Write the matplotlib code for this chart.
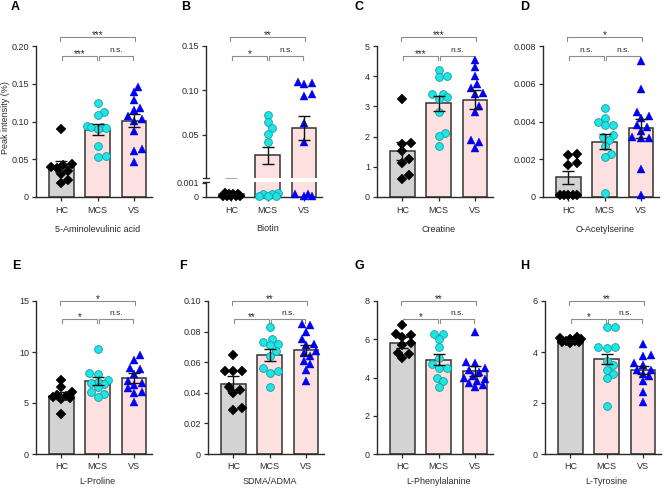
import numpy as np
import matplotlib
matplotlib.use('Agg')
import matplotlib.pyplot as plt

plt.rcParams['font.family'] = ['Liberation Sans', 'DejaVu Sans']

# ---------------- data ----------------
groups = ['HC', 'MCS', 'VS']

ala_hc = [0.090, 0.044, 0.042, 0.040, 0.038, 0.035, 0.031, 0.023, 0.018]
ala_mcs = [0.124, 0.112, 0.109, 0.094, 0.093, 0.093, 0.092, 0.090, 0.068, 0.053, 0.054]
ala_vs = [0.146, 0.139, 0.128, 0.118, 0.115, 0.107, 0.103, 0.101, 0.088, 0.063, 0.061, 0.047]
ala_mean = [0.040, 0.089, 0.101]
ala_sem = [0.0075, 0.0075, 0.0085]

bio_hc = [0.0003, 0.0002, 0.0002, 0.0002, 0.0001, 0.0001, 0.0001, 0.0001, 0.0001]
bio_mcs = [0.072, 0.064, 0.058, 0.051, 0.042, 0.0003, 0.0002, 0.0002, 0.0001, 0.0001, 0.0001]
bio_vs = [0.110, 0.108, 0.107, 0.0955, 0.0935, 0.0635, 0.0417, 0.0002, 0.0002, 0.0001, 0.0001]
bio_mean = [0.0002, 0.027, 0.0575]
bio_sem = [0.00002, 0.0096, 0.0135]

cre_hc = [3.25, 1.75, 1.80, 1.52, 1.27, 1.12, 0.72, 0.60]
cre_mcs = [4.22, 3.97, 4.00, 3.40, 3.42, 3.30, 3.25, 2.82, 2.12, 2.03, 1.68]
cre_vs = [4.55, 4.30, 4.00, 3.75, 3.60, 3.45, 3.40, 3.00, 2.80, 1.88, 1.82, 1.62]
cre_mean = [1.51, 3.10, 3.22]
cre_sem = [0.30, 0.25, 0.31]

oas_hc = [0.00228, 0.00225, 0.0018, 0.0017, 0.0001, 0.0001, 0.0001, 0.0001, 0.0001]
oas_mcs = [0.0047, 0.0042, 0.0040, 0.0038, 0.0038, 0.0033, 0.0032, 0.0030,
           0.0027, 0.0023, 0.0021, 0.0002]
oas_vs = [0.0072, 0.0057, 0.0045, 0.0043, 0.0042, 0.0038, 0.0037, 0.0035,
          0.0032, 0.0031, 0.0031, 0.0015, 0.0001]
oas_mean = [0.00105, 0.00292, 0.00365]
oas_sem = [0.00035, 0.0004, 0.0005]

pro_hc = [7.3, 6.6, 6.1, 5.8, 5.7, 5.6, 5.5, 5.4, 3.9]
pro_mcs = [10.3, 7.9, 7.8, 7.3, 7.1, 7.0, 6.9, 6.6, 6.1, 5.9, 5.6]
pro_vs = [9.7, 9.2, 8.4, 8.3, 7.8, 7.2, 7.0, 6.8, 6.5, 6.1, 6.0, 5.1]
pro_mean = [5.72, 7.17, 7.43]
pro_sem = [0.35, 0.40, 0.48]

sdma_hc = [0.065, 0.054, 0.054, 0.054, 0.044, 0.042, 0.040, 0.030, 0.029]
sdma_mcs = [0.083, 0.075, 0.073, 0.072, 0.071, 0.067, 0.064, 0.056, 0.054, 0.053, 0.044]
sdma_vs = [0.085, 0.084, 0.080, 0.075, 0.072, 0.071, 0.067, 0.066, 0.064,
           0.061, 0.059, 0.055, 0.048]
sdma_mean = [0.046, 0.0648, 0.068]
sdma_sem = [0.005, 0.0037, 0.0035]

phe_hc = [6.75, 6.3, 6.2, 6.1, 5.8, 5.7, 5.3, 5.25, 5.0]
phe_mcs = [6.3, 6.3, 6.0, 5.6, 5.0, 4.7, 4.5, 4.5, 4.0, 3.8, 3.5]
phe_vs = [6.4, 4.8, 4.75, 4.5, 4.4, 4.3, 4.1, 4.0, 3.9, 3.8, 3.7, 3.6, 3.5]
phe_mean = [5.83, 4.94, 4.33]
phe_sem = [0.27, 0.29, 0.25]

tyr_hc = [4.6, 4.55, 4.5, 4.5, 4.45, 4.45, 4.4, 4.4, 4.35]
tyr_mcs = [5.0, 5.0, 4.2, 4.15, 4.2, 3.65, 3.5, 3.3, 3.15, 3.0, 1.9]
tyr_vs = [4.3, 3.9, 3.85, 3.55, 3.5, 3.3, 3.3, 3.15, 3.05, 2.85, 2.45, 2.05]
tyr_mean = [4.44, 3.73, 3.30]
tyr_sem = [0.05, 0.20, 0.16]

names = ['5-Aminolevulinic acid', 'Biotin', 'Creatine', 'O-Acetylserine',
         'L-Proline', 'SDMA/ADMA', 'L-Phenylalanine', 'L-Tyrosine']
letters = ['A', 'B', 'C', 'D', 'E', 'F', 'G', 'H']
stars = [['***', '***', 'n.s.'], ['**', '*', 'n.s.'], ['***', '***', 'n.s.'],
         ['*', 'n.s.', 'n.s.'], ['*', '*', 'n.s.'], ['**', '**', 'n.s.'],
         ['**', '*', 'n.s.'], ['**', '*', 'n.s.']]
yticks = [[0, 0.05, 0.10, 0.15, 0.20], None, [0, 1, 2, 3, 4, 5],
          [0, 0.002, 0.004, 0.006, 0.008], [0, 5, 10, 15],
          [0, 0.02, 0.04, 0.06, 0.08, 0.10], [0, 2, 4, 6, 8], [0, 2, 4, 6]]
ytlabels = [['0', '0.05', '0.10', '0.15', '0.20'], None, None,
            ['0', '0.002', '0.004', '0.006', '0.008'], None,
            ['0', '0.02', '0.04', '0.06', '0.08', '0.10'], None, None]

points = [[ala_hc, ala_mcs, ala_vs], [bio_hc, bio_mcs, bio_vs],
          [cre_hc, cre_mcs, cre_vs], [oas_hc, oas_mcs, oas_vs],
          [pro_hc, pro_mcs, pro_vs], [sdma_hc, sdma_mcs, sdma_vs],
          [phe_hc, phe_mcs, phe_vs], [tyr_hc, tyr_mcs, tyr_vs]]
means = [ala_mean, bio_mean, cre_mean, oas_mean, pro_mean, sdma_mean, phe_mean, tyr_mean]
sems = [ala_sem, bio_sem, cre_sem, oas_sem, pro_sem, sdma_sem, phe_sem, tyr_sem]

# ---------------- styles ----------------
W, H = 668, 491
bar_colors = ['#d3d3d3', '#fde0e0', '#fde0e0']
mk = [dict(marker='D', ms=4.8, mfc='black', mec='black', mew=0.3),
      dict(marker='o', ms=5.6, mfc='#1ee6e6', mec='#1a9a9a', mew=0.6),
      dict(marker='^', ms=6.0, mfc='#0000f0', mec='#0000f0', mew=0.3)]
axcol = '#2a2a2a'

fig = plt.figure(figsize=(W / 100, H / 100), dpi=100)


def px_rect(l, t, r, b):
    return [l / W, 1 - b / H, (r - l) / W, (b - t) / H]


def style(ax, pad):
    for s in ['top', 'right']:
        ax.spines[s].set_visible(False)
    for s in ['left', 'bottom']:
        ax.spines[s].set_linewidth(1.0)
        ax.spines[s].set_color(axcol)
    ax.tick_params(length=3, width=0.9, labelsize=6.5, colors=axcol, pad=2)
    ax.tick_params(axis='x', pad=pad)
    ax.set_xlim(-0.7, 2.5)
    ax.set_xticks([0, 1, 2])
    ax.set_xticklabels(groups)


def swarm(ax, x0, vals, diam=7.0, half=0.3):
    # beeswarm in pixel space, kept inside +-half of the bar
    pts = ax.transData.transform(np.column_stack([np.full(len(vals), x0), vals]))
    ys = pts[:, 1]
    ppu = ax.transData.transform((1, 0))[0] - ax.transData.transform((0, 0))[0]
    lim = half * ppu
    step = diam * 0.3
    cands = [0.0]
    k = 1
    while k * step <= lim:
        cands += [k * step, -k * step]
        k += 1
    order = np.argsort(ys)
    placed = []
    offs = np.zeros(len(vals))
    for i in order:
        best, best_d = 0.0, -1
        for c in cands:
            d = min([np.hypot(c - px, ys[i] - py) for px, py in placed] or [1e9])
            if d >= diam * 0.95:
                best = c
                break
            if d > best_d:
                best, best_d = c, d
        offs[i] = best
        placed.append((best, ys[i]))
    return x0 + offs / ppu


def draw_group(ax, j, vals, clip=True):
    if len(vals) == 0:
        return
    xs = swarm(ax, j, vals)
    ax.plot(xs, vals, ls='none', zorder=3, clip_on=clip, **mk[j])


def brackets(ax, labs, low_off, top_off, leg=4):
    hpx = ax.get_position().height * H
    tr = ax.get_xaxis_transform()
    spans = [(-0.03, 2.03, 1 + top_off / hpx, labs[0]),
             (0.03, 0.97, 1 - low_off / hpx, labs[1]),
             (1.03, 1.97, 1 - low_off / hpx, labs[2])]
    for x1, x2, y, lab in spans:
        ax.plot([x1, x1, x2, x2], [y - leg / hpx, y, y, y - leg / hpx], color='#8c8c8c',
                lw=0.8, transform=tr, clip_on=False)
        if '*' in lab:
            ax.annotate(lab, xy=((x1 + x2) / 2, y), xycoords=tr, xytext=(0, -2.0),
                        textcoords='offset points', ha='center', va='bottom',
                        fontsize=7, color=axcol)
        else:
            ax.annotate(lab, xy=((x1 + x2) / 2, y), xycoords=tr, xytext=(0, 1.2),
                        textcoords='offset points', ha='center', va='bottom',
                        fontsize=6, color=axcol)


def bars(ax, m, s):
    ax.bar([0, 1, 2], m, width=0.68, color=bar_colors, edgecolor='#333333', lw=1.1, zorder=2)
    ax.errorbar([0, 1, 2], m, yerr=s, fmt='none', ecolor='#111111', elinewidth=1.0,
                capsize=4.3, capthick=1.0, zorder=4)


lefts = [36, 206, 377, 543, 36, 208, 377, 545]
label_pos = [(15, 7), (186, 7), (359, 7), (525, 7), (16, 266), (183, 266), (359, 266), (525, 266)]

for p in range(8):
    l = lefts[p]
    top_row = p < 4
    t, b = (46, 197) if top_row else (301, 454)
    if p == 1:
        # Biotin: broken y axis
        axb = fig.add_axes(px_rect(l, 182, l + 116, b))
        axt = fig.add_axes(px_rect(l, t, l + 116, 178))
        style(axb, 3.5)
        style(axt, 3.5)
        axt.spines['bottom'].set_visible(False)
        axt.tick_params(axis='x', bottom=False, labelbottom=False)
        axb.set_ylim(0, 0.00105)
        axt.set_ylim(0.0016, 0.15)
        axb.set_yticks([0, 0.001])
        axb.set_yticklabels(['0', '0.001'])
        axt.set_yticks([0.05, 0.10, 0.15])
        axt.set_yticklabels(['0.05', '0.10', '0.15'])
        for a in (axb, axt):
            bars(a, means[p], sems[p])
        for j in range(3):
            v = np.array(points[p][j])
            draw_group(axb, j, v[v < 0.001], clip=False)
            draw_group(axt, j, v[v >= 0.001])
        # break marks on the y axis
        for a, yy in ((axb, 1.0), (axt, 0.0)):
            a.plot([-0.028, 0.028], [yy, yy], transform=a.transAxes,
                   color=axcol, lw=0.9, clip_on=False)
        brackets(axt, stars[p], 10, 9)
        ax = axb
    else:
        ax = fig.add_axes(px_rect(l, t, l + 116, b))
        style(ax, 3.5 if top_row else 2.5)
        yt = yticks[p]
        ax.set_ylim(0, yt[-1])
        ax.set_yticks(yt)
        if ytlabels[p] is not None:
            ax.set_yticklabels(ytlabels[p])
        bars(ax, means[p], sems[p])
        for j in range(3):
            draw_group(ax, j, points[p][j], clip=False)
        if top_row:
            brackets(ax, stars[p], 10, 9)
        else:
            brackets(ax, stars[p], 18, 0)
    off = 32 if top_row else 28
    hpx = ax.get_position().height * H
    ax.text(1, -off / hpx, names[p], transform=ax.get_xaxis_transform(), ha='center',
            va='center', fontsize=6.5, color=axcol)
    lx, ly = label_pos[p]
    fig.text(lx / W, 1 - ly / H, letters[p], fontsize=9, fontweight='bold', ha='center',
             va='center')

fig.text(6 / W, 1 - 118 / H, 'Peak intensity (%)', rotation=90, ha='center', va='center',
         fontsize=6.5, color=axcol)

fig.savefig('out.png', dpi=100)
